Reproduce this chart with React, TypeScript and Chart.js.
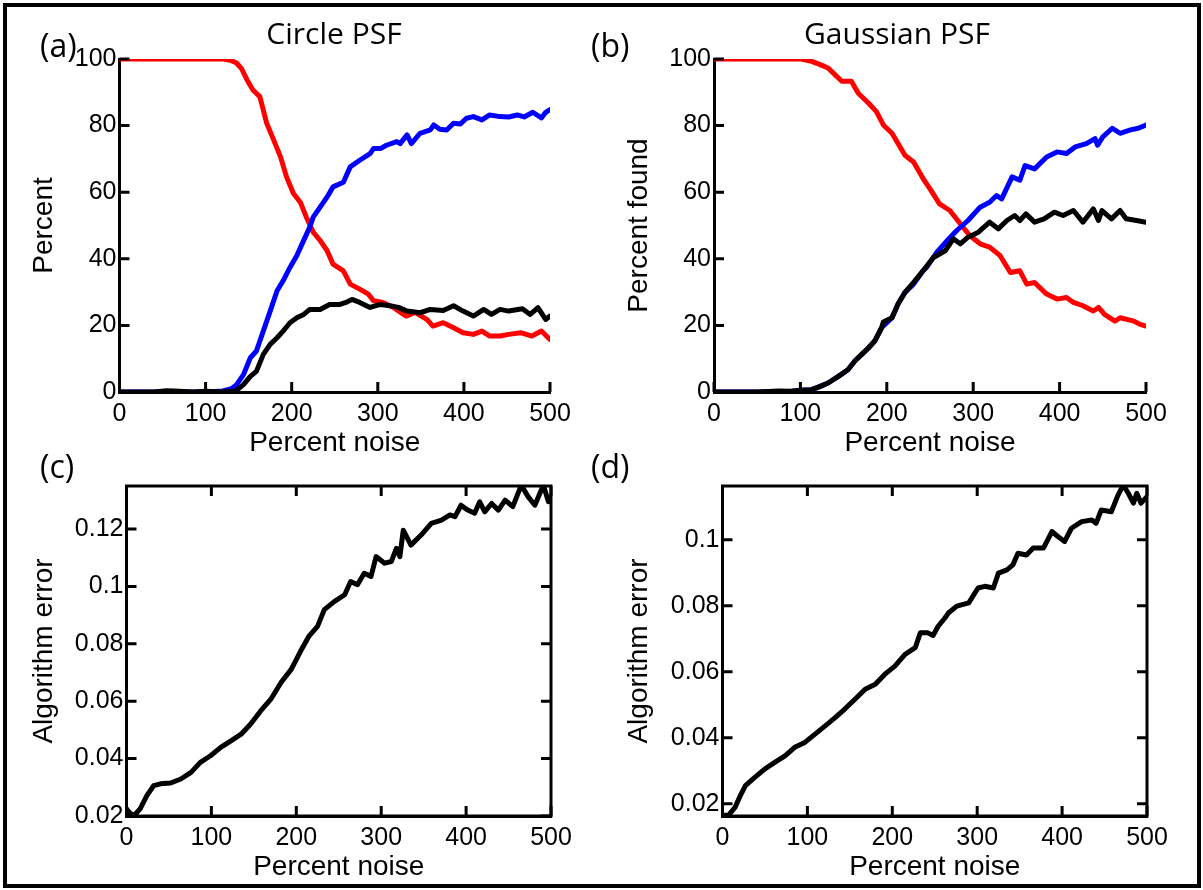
import React, { useEffect, useRef } from "react";
import { Chart, registerables } from "chart.js";

Chart.register(...registerables);

type Pt = [number, number];

// ---------- axis tick values ----------
const X_TICKS = [0, 100, 200, 300, 400, 500];
const PCT_TICKS = [0, 20, 40, 60, 80, 100];
const C_TICKS = [0.02, 0.04, 0.06, 0.08, 0.1, 0.12];
const D_TICKS = [0.02, 0.04, 0.06, 0.08, 0.1];

// ---------- (a) Circle PSF ----------
const A_RED: Pt[] = [
  [0, 100], [50, 100], [100, 100], [121, 100], [130, 99.5], [136, 98.8], [142, 97], [148, 93.8],
  [155, 90.7], [163, 88.7], [171, 80.7], [179, 75.7], [187, 70.6], [194, 64.6], [202, 59.6],
  [210, 57], [217, 52.5], [225, 48], [233, 45.5], [241, 42.5], [248, 38.4], [260, 36.4],
  [268, 32.4], [279, 30.9], [289, 29.4], [295, 27.4], [306, 26.9], [318, 25.4], [333, 22.8],
  [343, 23.9], [357, 21.8], [364, 19.8], [376, 20.8], [388, 19.3], [399, 17.8], [411, 17.3],
  [421, 18.3], [430, 16.8], [442, 16.8], [452, 17.3], [466, 17.8], [479, 16.8], [490, 18.3],
  [500, 15.8],
];
const A_BLUE: Pt[] = [
  [0, 0], [50, 0], [100, 0], [120, 0.3], [130, 1], [136, 2.2], [144, 5.2], [152, 10.3],
  [159, 12.3], [167, 18.3], [175, 24.3], [183, 30.4], [190, 33.4], [198, 37.4], [206, 41],
  [213, 45], [221, 49.5], [225, 52.5], [233, 55.5], [241, 58.5], [248, 61.6], [260, 63],
  [268, 67.6], [279, 69.6], [291, 71.6], [295, 73.1], [303, 73.1], [310, 74.1], [322, 75.2],
  [326, 74.6], [334, 77.2], [339, 74.6], [349, 77.7], [361, 78.7], [365, 80.2], [372, 78.9],
  [380, 78.7], [388, 80.7], [396, 80.5], [403, 82.2], [411, 82.7], [421, 81.7], [430, 83.2],
  [442, 82.7], [452, 82.6], [462, 83.2], [470, 82.6], [480, 84], [490, 82.3], [495, 84],
  [500, 84.8],
];
const A_BLACK: Pt[] = [
  [0, 0], [40, 0], [55, 0.4], [70, 0.2], [85, 0], [100, 0.2], [120, 0], [135, 0.3], [144, 2.2],
  [152, 4.7], [159, 6.2], [167, 11.3], [175, 14.3], [183, 16.3], [190, 18.3], [198, 20.8],
  [206, 22.3], [214, 23.3], [221, 24.8], [233, 24.8], [244, 26.3], [256, 26.3], [264, 27],
  [270, 27.8], [279, 26.9], [291, 25.4], [303, 26.3], [314, 25.9], [324, 25.4], [334, 24.3],
  [349, 23.8], [361, 24.8], [376, 24.5], [388, 25.9], [399, 24.3], [411, 22.8], [423, 24.8],
  [432, 23.3], [442, 24.8], [452, 24.3], [468, 25], [477, 23.3], [486, 25.3], [495, 21.8],
  [500, 22.8],
];

// ---------- (b) Gaussian PSF ----------
const B_RED: Pt[] = [
  [0, 100], [50, 100], [101, 100], [113, 99.3], [123, 98.3], [132, 97.3], [140, 95.3],
  [148, 93.3], [159, 93.3], [167, 89.7], [179, 86.7], [188, 84.2], [196, 80.2], [206, 77.7],
  [213, 74.6], [221, 71.1], [231, 69.1], [242, 64.1], [250, 61], [261, 56.5], [273, 54.5],
  [285, 50.5], [296, 47], [308, 44.5], [319, 43.5], [331, 41], [343, 35.9], [354, 36.4],
  [362, 32.4], [371, 32.9], [385, 29.4], [397, 27.9], [408, 28.4], [416, 26.9], [427, 25.9],
  [439, 24.3], [445, 25.4], [452, 23.3], [464, 21.3], [470, 22.3], [486, 21.3], [493, 20.3],
  [500, 19.8],
];
const B_BLUE: Pt[] = [
  [0, 0], [50, 0], [90, 0.2], [100, 0.5], [113, 0.7], [123, 1.7], [132, 2.7], [144, 4.7],
  [155, 6.7], [163, 9.3], [171, 11.3], [179, 13.3], [186, 15.3], [194, 19.3], [200, 20.8],
  [206, 22.3], [213, 26.4], [221, 29.9], [231, 32.4], [242, 36.4], [246, 37.4], [258, 42],
  [270, 45.5], [281, 48.5], [294, 51.5], [308, 55.5], [319, 57], [327, 59], [333, 58],
  [345, 64.6], [354, 63.6], [360, 68], [371, 67], [385, 70.6], [397, 72.1], [408, 71.6],
  [418, 73.6], [431, 74.6], [441, 76.1], [444, 74.1], [450, 76.6], [461, 79.2], [470, 77.7],
  [482, 78.7], [491, 79.2], [500, 80.2],
];
const B_BLACK: Pt[] = [
  [0, 0], [50, 0], [75, 0.3], [90, 0.2], [100, 0.5], [113, 0.7], [123, 1.7], [132, 2.7],
  [144, 4.7], [155, 6.7], [163, 9.3], [171, 11.3], [179, 13.3], [186, 15.3], [194, 19.3],
  [196, 21], [206, 22.3], [213, 26.4], [221, 29.9], [231, 32.9], [242, 36.4], [254, 40.4],
  [268, 42.5], [277, 46], [285, 44.5], [294, 46.5], [306, 48], [319, 51], [329, 49],
  [339, 51.5], [348, 53], [354, 51.5], [361, 53.5], [371, 51], [382, 52], [394, 54], [404, 53],
  [416, 54.5], [427, 51], [439, 55], [445, 51.5], [449, 54.5], [460, 52], [470, 54.5],
  [477, 52], [489, 51.5], [500, 51],
];

// ---------- (c) Circle PSF algorithm error ----------
const C_ERR: Pt[] = [
  [0, 0.0225], [4, 0.021], [9, 0.0202], [16, 0.0225], [24, 0.0271], [32, 0.0306], [40, 0.0312],
  [52, 0.0315], [64, 0.0329], [76, 0.0352], [87, 0.0387], [99, 0.041], [111, 0.0439],
  [123, 0.0462], [135, 0.0485], [146, 0.052], [158, 0.0566], [170, 0.0607], [182, 0.0665],
  [194, 0.0711], [205, 0.0774], [215, 0.0827], [225, 0.0861], [233, 0.0919], [245, 0.0948],
  [257, 0.0971], [264, 0.1017], [272, 0.1006], [280, 0.1046], [288, 0.1035], [294, 0.1104],
  [304, 0.1081], [312, 0.1087], [318, 0.1133], [322, 0.1104], [326, 0.1196], [335, 0.1144],
  [347, 0.1179], [359, 0.122], [371, 0.1231], [381, 0.1249], [387, 0.1243], [394, 0.1283],
  [402, 0.1266], [410, 0.1255], [416, 0.1295], [422, 0.126], [430, 0.1289], [438, 0.1266],
  [446, 0.1301], [455, 0.1278], [465, 0.1353], [473, 0.1313], [481, 0.1283], [491, 0.1353],
  [497, 0.1295], [500, 0.1313],
];

// ---------- (d) Gaussian PSF algorithm error ----------
const D_ERR: Pt[] = [
  [0, 0.0165], [7, 0.0165], [15, 0.019], [21, 0.0225], [27, 0.0255], [38, 0.028], [50, 0.0306],
  [62, 0.0326], [74, 0.0346], [85, 0.0371], [97, 0.0386], [109, 0.0411], [121, 0.0436],
  [133, 0.0462], [144, 0.0487], [156, 0.0517], [168, 0.0547], [180, 0.0562], [191, 0.0592],
  [203, 0.0617], [215, 0.0653], [227, 0.0673], [233, 0.0718], [242, 0.0718], [248, 0.071],
  [254, 0.0738], [262, 0.0763], [266, 0.0778], [276, 0.0799], [290, 0.0809], [301, 0.0854],
  [309, 0.0859], [319, 0.0854], [325, 0.0899], [335, 0.0909], [342, 0.0924], [348, 0.0959],
  [358, 0.0954], [366, 0.0975], [378, 0.0975], [388, 0.1025], [395, 0.101], [403, 0.0995],
  [411, 0.1035], [423, 0.1055], [435, 0.106], [440, 0.105], [446, 0.109], [458, 0.1085],
  [466, 0.1136], [472, 0.1166], [478, 0.1141], [484, 0.1111], [488, 0.1141], [493, 0.1111],
  [500, 0.1131],
];

const ARIAL = "'Liberation Sans', Arial, sans-serif";
const CALIBRI = "'Open Sans', 'Noto Sans', sans-serif";

const innerTicks = {
  id: "innerTicks",
  afterDatasetsDraw(chart: any, _args: any, opts: any) {
    const { ctx, chartArea, scales } = chart;
    const { left, right, top, bottom } = chartArea;
    const L = opts.len || 10;
    ctx.save();
    ctx.strokeStyle = "#000";
    ctx.lineWidth = 3;
    ctx.beginPath();
    scales.x.ticks.forEach((t: any) => {
      const px = scales.x.getPixelForValue(t.value);
      ctx.moveTo(px, bottom);
      ctx.lineTo(px, bottom - L);
      if (opts.box) {
        ctx.moveTo(px, top);
        ctx.lineTo(px, top + L);
      }
    });
    scales.y.ticks.forEach((t: any) => {
      const py = scales.y.getPixelForValue(t.value);
      ctx.moveTo(left, py);
      ctx.lineTo(left + L, py);
      if (opts.box) {
        ctx.moveTo(right, py);
        ctx.lineTo(right - L, py);
      }
    });
    ctx.stroke();
    if (opts.box) {
      ctx.strokeRect(left, top, right - left, bottom - top);
    }
    ctx.restore();
  },
};

interface Series {
  data: Pt[];
  color: string;
}

interface PanelSpec {
  left: number;
  top: number;
  width: number;
  height: number;
  padTop: number;
  padRight: number;
  yWidth: number;
  xHeight: number;
  yMin: number;
  yMax: number;
  yTicks: number[];
  yTitle: string;
  yTitlePad: number;
  xTitlePad: number;
  box: boolean;
  series: Series[];
  fmt: (v: number) => string;
}

function buildConfig(p: PanelSpec): any {
  return {
    type: "line",
    data: {
      datasets: p.series.map((s) => ({
        data: s.data.map(([x, y]) => ({ x, y })),
        borderColor: s.color,
        backgroundColor: s.color,
        borderWidth: 5,
        pointRadius: 0,
        tension: 0,
        fill: false,
        borderJoinStyle: "round",
        borderCapStyle: "round",
      })),
    },
    options: {
      responsive: false,
      animation: false,
      events: [],
      layout: { padding: { top: p.padTop, right: p.padRight, left: 0, bottom: 0 } },
      plugins: {
        legend: { display: false },
        tooltip: { enabled: false },
        innerTicks: { len: 10, box: p.box },
      },
      scales: {
        x: {
          type: "linear",
          min: 0,
          max: 500,
          afterBuildTicks: (s: any) => {
            s.ticks = X_TICKS.map((v) => ({ value: v }));
          },
          afterFit: (s: any) => {
            s.height = p.xHeight;
          },
          grid: { display: false, drawTicks: false },
          border: { display: true, color: "#000", width: 3 },
          ticks: {
            color: "#000",
            font: { family: ARIAL, size: 25 },
            padding: 7,
            maxRotation: 0,
            autoSkip: false,
            callback: (v: any) => String(v),
          },
          title: {
            display: true,
            text: "Percent noise",
            color: "#000",
            font: { family: ARIAL, size: 28 },
            padding: { top: 0, bottom: p.xTitlePad },
          },
        },
        y: {
          type: "linear",
          min: p.yMin,
          max: p.yMax,
          afterBuildTicks: (s: any) => {
            s.ticks = p.yTicks.map((v) => ({ value: v }));
          },
          afterFit: (s: any) => {
            s.width = p.yWidth;
          },
          grid: { display: false, drawTicks: false },
          border: { display: true, color: "#000", width: 3 },
          ticks: {
            color: "#000",
            font: { family: ARIAL, size: 25 },
            padding: 3,
            autoSkip: false,
            callback: (v: any) => p.fmt(Number(v)),
          },
          title: {
            display: true,
            text: p.yTitle,
            color: "#000",
            font: { family: ARIAL, size: 28 },
            padding: { top: p.yTitlePad, bottom: 0 },
          },
        },
      },
    },
    plugins: [innerTicks],
  };
}

function Panel({ spec }: { spec: PanelSpec }) {
  const ref = useRef<HTMLCanvasElement>(null);
  useEffect(() => {
    const chart = new Chart(ref.current as HTMLCanvasElement, buildConfig(spec));
    return () => chart.destroy();
  }, []);
  return (
    <canvas
      ref={ref}
      width={spec.width}
      height={spec.height}
      style={{ position: "absolute", left: spec.left, top: spec.top, width: spec.width, height: spec.height }}
    />
  );
}

const pctFmt = (v: number) => String(Math.round(v));
const errFmt = (v: number) => String(parseFloat(v.toFixed(2)));

const PANELS: PanelSpec[] = [
  {
    left: 0, top: 0, width: 600, height: 470, padTop: 59, padRight: 50, yWidth: 119.5, xHeight: 78,
    yMin: 0, yMax: 100, yTicks: PCT_TICKS, yTitle: "Percent", yTitlePad: 27, xTitlePad: 10, box: false,
    series: [
      { data: A_BLACK, color: "#000000" },
      { data: A_BLUE, color: "#0000ff" },
      { data: A_RED, color: "#ff0000" },
    ],
    fmt: pctFmt,
  },
  {
    left: 600, top: 0, width: 603, height: 470, padTop: 59, padRight: 57, yWidth: 114, xHeight: 78,
    yMin: 0, yMax: 100, yTicks: PCT_TICKS, yTitle: "Percent found", yTitlePad: 22, xTitlePad: 10, box: false,
    series: [
      { data: B_BLACK, color: "#000000" },
      { data: B_BLUE, color: "#0000ff" },
      { data: B_RED, color: "#ff0000" },
    ],
    fmt: pctFmt,
  },
  {
    left: 0, top: 468, width: 600, height: 416, padTop: 16, padRight: 49, yWidth: 126.5, xHeight: 68,
    yMin: 0.02, yMax: 0.135, yTicks: C_TICKS, yTitle: "Algorithm error", yTitlePad: 27, xTitlePad: 0, box: true,
    series: [{ data: C_ERR, color: "#000000" }],
    fmt: errFmt,
  },
  {
    left: 600, top: 468, width: 603, height: 416, padTop: 16, padRight: 56, yWidth: 122.5, xHeight: 68,
    yMin: 0.0163, yMax: 0.1163, yTicks: D_TICKS, yTitle: "Algorithm error", yTitlePad: 22, xTitlePad: 0, box: true,
    series: [{ data: D_ERR, color: "#000000" }],
    fmt: errFmt,
  },
];

function Label({ text, left, top, size, center }: { text: string; left: number; top: number; size: number; center?: boolean }) {
  const style: React.CSSProperties = {
    position: "absolute",
    top,
    fontFamily: CALIBRI,
    fontSize: size,
    lineHeight: `${size}px`,
    color: "#000",
    whiteSpace: "nowrap",
  };
  if (center) {
    style.left = left - 200;
    style.width = 400;
    style.textAlign = "center";
  } else {
    style.left = left;
  }
  return <div style={style}>{text}</div>;
}

export default function App() {
  return (
    <div style={{ position: "absolute", left: 0, top: 0, width: 1203, height: 890, background: "#fff", overflow: "hidden" }}>
      <div
        style={{
          position: "absolute",
          left: 3,
          top: 3,
          width: 1198,
          height: 885,
          border: "4px solid #000",
          boxSizing: "border-box",
        }}
      />
      {PANELS.map((p, i) => (
        <Panel key={i} spec={p} />
      ))}
      <Label text="(a)" left={40} top={28.5} size={32} />
      <Label text="Circle PSF" left={334} top={18.4} size={30} center />
      <Label text="(b)" left={591} top={28.5} size={32} />
      <Label text="Gaussian PSF" left={897} top={18.4} size={30} center />
      <Label text="(c)" left={40} top={449.5} size={32} />
      <Label text="(d)" left={591} top={449.5} size={32} />
    </div>
  );
}
